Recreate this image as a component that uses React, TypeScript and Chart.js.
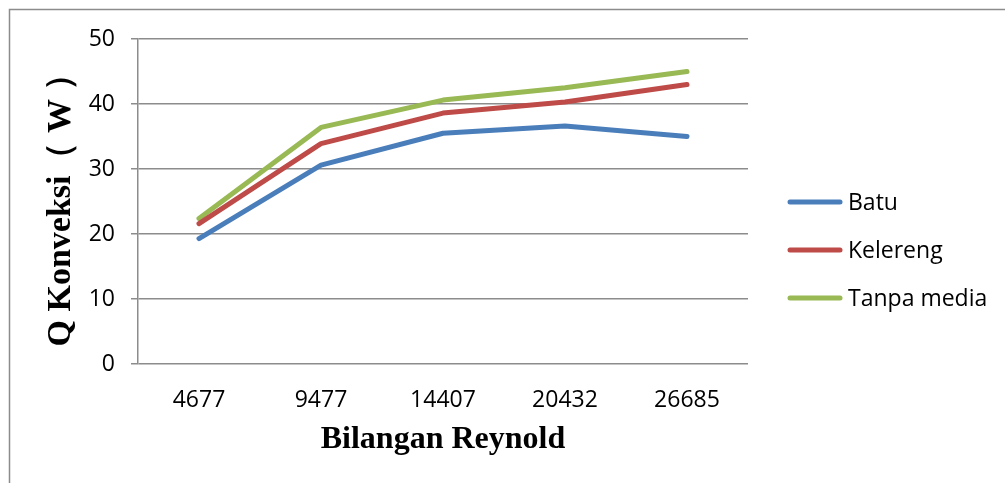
import React, { useEffect, useRef } from "react";
import { Chart, registerables } from "chart.js";

Chart.register(...registerables);

const categories = ["4677", "9477", "14407", "20432", "26685"];
const batu = [19.3, 30.6, 35.5, 36.6, 35.0];
const kelereng = [21.6, 33.9, 38.6, 40.3, 43.0];
const tanpaMedia = [22.4, 36.4, 40.6, 42.5, 45.0];
const seriesLabels = ["Batu", "Kelereng", "Tanpa media"];
const seriesColors = ["#4A7EBB", "#BE4B48", "#98B954"];

const W = 1005;
const H = 483;

const framePlugin = {
  id: "frame",
  beforeDraw(chart: any) {
    const ctx = chart.ctx;
    ctx.save();
    ctx.fillStyle = "#ffffff";
    ctx.fillRect(0, 0, W, H);
    ctx.strokeStyle = "#8c8c8c";
    ctx.lineWidth = 1.5;
    ctx.beginPath();
    ctx.moveTo(9.5, H);
    ctx.lineTo(9.5, 9.5);
    ctx.lineTo(W, 9.5);
    ctx.stroke();
    ctx.restore();
  },
};

const legendPlugin = {
  id: "customLegend",
  afterDraw(chart: any) {
    const ctx = chart.ctx;
    ctx.save();
    chart.data.datasets.forEach((ds: any, i: number) => {
      const y = 202 + 48 * i;
      ctx.strokeStyle = ds.borderColor;
      ctx.lineWidth = 5;
      ctx.lineCap = "round";
      ctx.beginPath();
      ctx.moveTo(790, y);
      ctx.lineTo(840, y);
      ctx.stroke();
      ctx.fillStyle = "#000000";
      ctx.font = "23px 'Open Sans'";
      ctx.textBaseline = "middle";
      ctx.textAlign = "left";
      ctx.fillText(ds.label, 848, y + 1);
    });
    ctx.restore();
  },
};

export default function App() {
  const ref = useRef<HTMLCanvasElement | null>(null);

  useEffect(() => {
    if (!ref.current) return;
    const data = [batu, kelereng, tanpaMedia];
    const chart = new Chart(ref.current, {
      type: "line",
      data: {
        labels: categories,
        datasets: data.map((d, i) => ({
          label: seriesLabels[i],
          data: d,
          borderColor: seriesColors[i],
          backgroundColor: seriesColors[i],
          borderWidth: 5,
          borderCapStyle: "round",
          borderJoinStyle: "round",
          pointRadius: 0,
          tension: 0,
          fill: false,
        })),
      },
      options: {
        animation: false,
        responsive: false,
        layout: { padding: { left: 0, top: 39, right: 257, bottom: 0 } },
        plugins: {
          legend: { display: false },
          tooltip: { enabled: false },
        },
        scales: {
          x: {
            offset: true,
            grid: { display: false, drawTicks: false },
            border: { display: false },
            ticks: {
              color: "#000000",
              font: { family: "'Open Sans'", size: 23 },
              padding: 23,
              maxRotation: 0,
            },
            title: {
              display: true,
              text: "Bilangan Reynold",
              color: "#000000",
              font: { family: "'Liberation Serif'", size: 32, weight: "bold" },
              padding: { top: 0, bottom: 24 },
            },
            afterFit(scale: any) {
              scale.height = H - 364;
            },
          },
          y: {
            min: 0,
            max: 50,
            ticks: {
              stepSize: 10,
              color: "#000000",
              font: { family: "'Open Sans'", size: 23 },
              padding: 16,
            },
            grid: {
              color: "#8c8c8c",
              lineWidth: 1.5,
              drawTicks: true,
              tickLength: 7,
            },
            border: { display: true, color: "#8c8c8c", width: 1.5 },
            title: {
              display: true,
              text: "Q Konveksi（ W ）",
              color: "#000000",
              font: { family: "'Liberation Serif'", size: 34, weight: "bold" },
              padding: { top: 41, bottom: 0 },
            },
            afterFit(scale: any) {
              scale.width = 138;
            },
          },
        },
      },
      plugins: [framePlugin, legendPlugin],
    } as any);
    return () => chart.destroy();
  }, []);

  return (
    <div style={{ position: "absolute", left: 0, top: 0, width: W, height: H, background: "#fff" }}>
      <canvas ref={ref} width={W} height={H} style={{ width: W, height: H, display: "block" }} />
    </div>
  );
}
